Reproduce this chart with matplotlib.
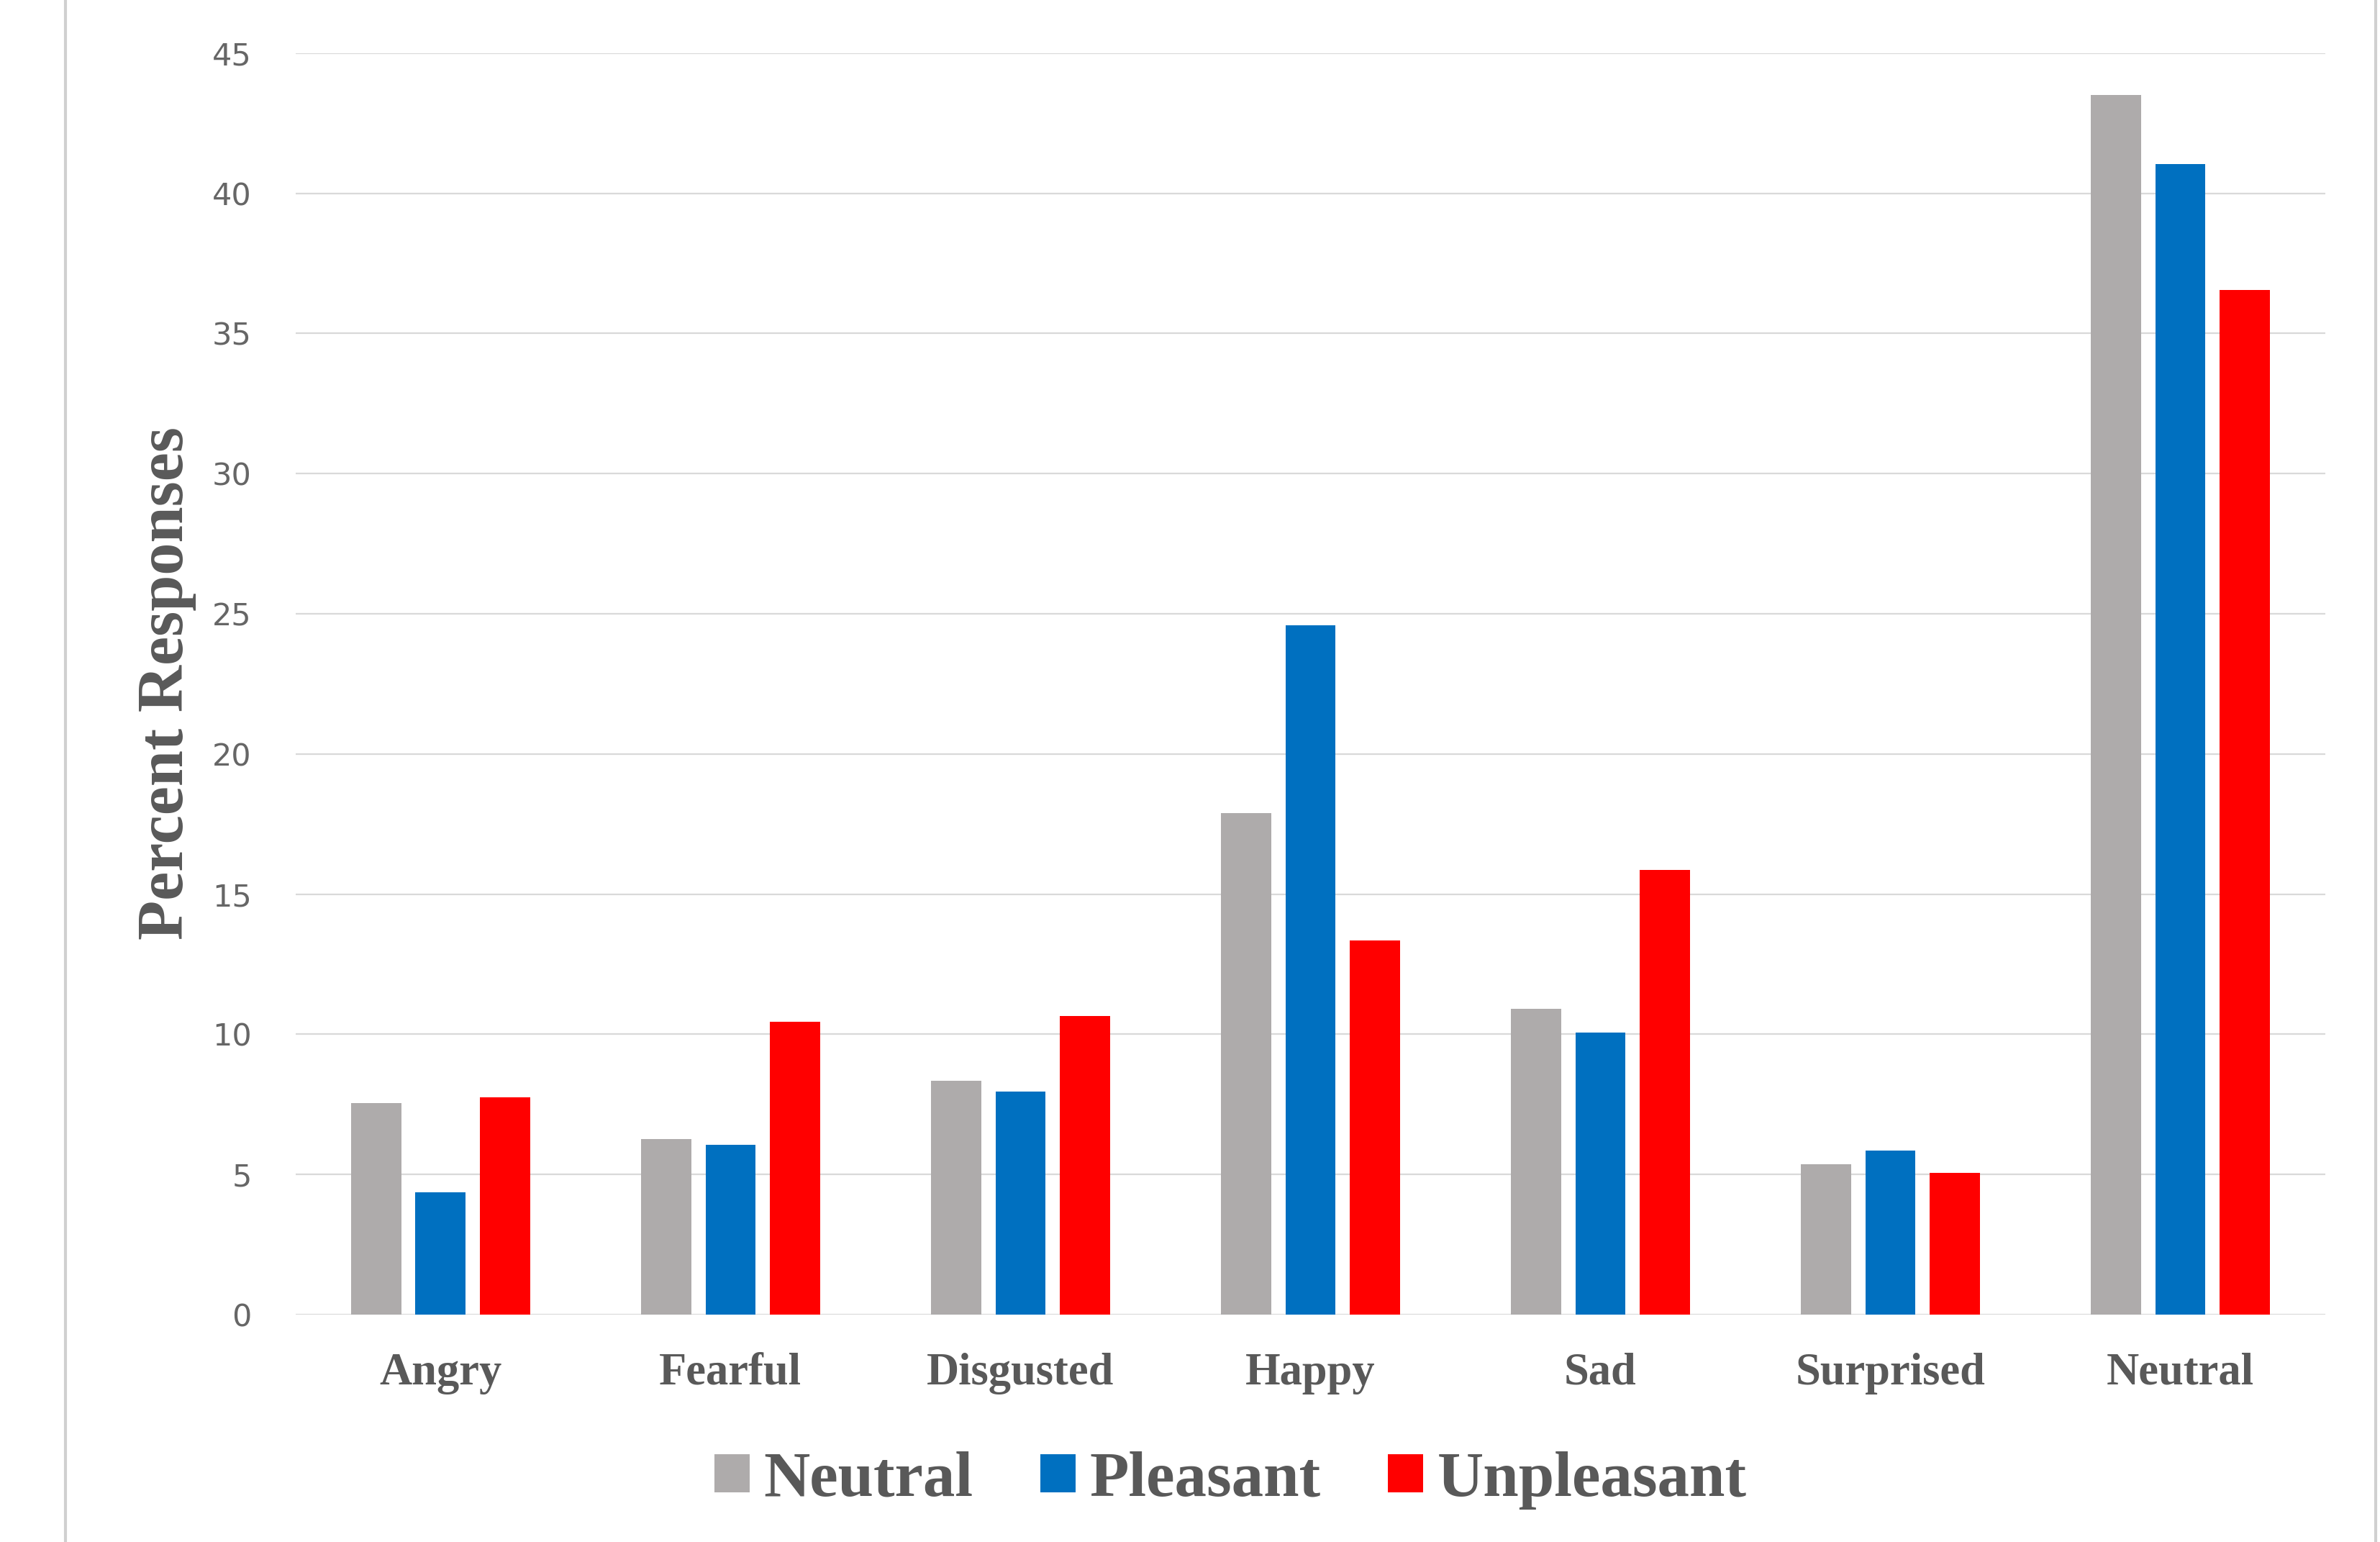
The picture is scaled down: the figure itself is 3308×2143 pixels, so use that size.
import numpy as np
import matplotlib.pyplot as plt
from matplotlib.lines import Line2D

# Data
categories = ['Angry', 'Fearful', 'Disgusted', 'Happy', 'Sad', 'Surprised', 'Neutral']
neutral = [7.55, 6.25, 8.35, 17.9, 10.9, 5.35, 43.5]
pleasant = [4.35, 6.05, 7.95, 24.6, 10.05, 5.85, 41.05]
unpleasant = [7.75, 10.45, 10.65, 13.35, 15.85, 5.05, 36.55]
series_names = ['Neutral', 'Pleasant', 'Unpleasant']
colors = ['#AEABAB', '#0070C0', '#FF0000']

serif = ['Liberation Serif', 'DejaVu Serif']
text_grey = '#595959'

fig = plt.figure(figsize=(33.08, 21.43), dpi=100)
ax = fig.add_axes([0.1242, 0.1475, 0.8528, 0.818])

x = np.arange(len(categories))
width = 0.173
step = 0.222
for i, (vals, name, c) in enumerate(zip([neutral, pleasant, unpleasant], series_names, colors)):
    ax.bar(x + (i - 1) * step, vals, width, color=c, label=name, zorder=3)

# axes styling
ax.set_xlim(-0.5, len(categories) - 0.5)
ax.set_ylim(0, 45)
ax.set_yticks(range(0, 46, 5))
ax.grid(axis='y', color='#D9D9D9', linewidth=1.6, zorder=0)
for s in ax.spines.values():
    s.set_visible(False)
ax.tick_params(axis='both', length=0)
ax.tick_params(axis='y', labelsize=31, labelcolor='#666666', pad=44)
ax.set_xticks(x)
ax.set_xticklabels(categories, fontfamily=serif, fontweight='bold', fontsize=45, color=text_grey)
ax.tick_params(axis='x', pad=38)

fig.text(232 / 3308, 1 - 949 / 2143, 'Percent Responses', rotation=90, ha='center', va='center',
         fontfamily=serif, fontweight='bold', fontsize=65, color=text_grey)

leg = fig.legend(loc='center', bbox_to_anchor=(0.517, 0.040), ncol=3, frameon=False,
                 prop={'family': serif, 'weight': 'bold', 'size': 64},
                 handlelength=0.55, handleheight=0.55, handletextpad=0.22, columnspacing=1.05)
for t in leg.get_texts():
    t.set_color(text_grey)

# grey border lines of the original slide crop
fig.add_artist(Line2D([91 / 3308, 91 / 3308], [0, 1], color='#D0D0D0', linewidth=3, transform=fig.transFigure))
fig.add_artist(Line2D([3302 / 3308, 3302 / 3308], [0, 1], color='#D0D0D0', linewidth=3, transform=fig.transFigure))

plt.savefig('out.png', dpi=100, facecolor='white')
